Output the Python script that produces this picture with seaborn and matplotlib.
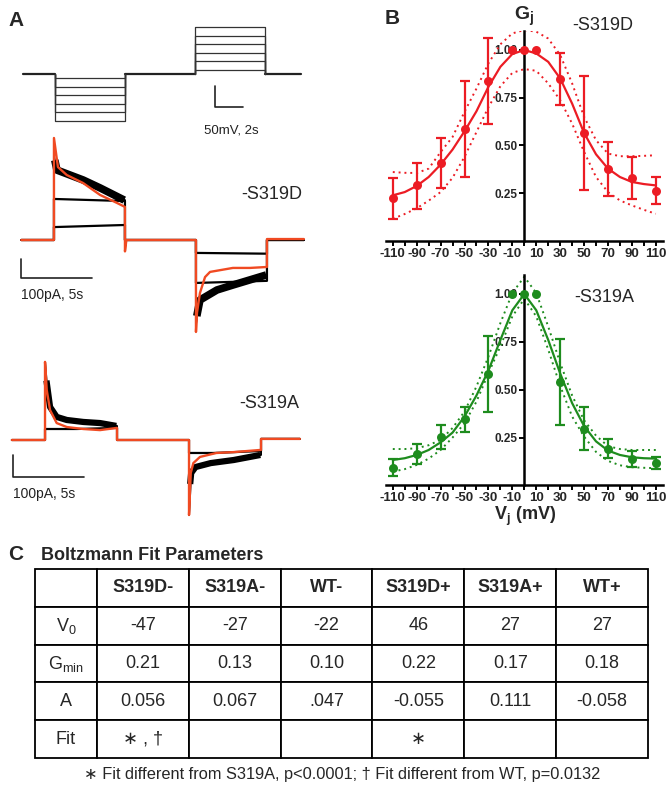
import matplotlib
matplotlib.use('Agg')
import matplotlib.pyplot as plt
import numpy as np
import seaborn as sns

## DATOS

# A: protocolo de voltaje (s, mV)
prot_t = [0, 2.3, 7.3, 12.3, 17.3, 19.9]
prot_neg = [-10, -30, -50, -70, -90, -110]
prot_pos = [10, 30, 50, 70, 90, 110]

# A: corrientes S319D (s, pA)
d_red_t = [0, 2.3, 2.3, 2.58, 3.2, 4.35, 5.55, 6.74, 7.3, 7.3, 7.4, 12.3, 12.3, 12.37, 12.58, 12.94, 13.29, 14.9, 16.1, 17.3, 17.3, 19.9]
d_red_i = [0, 0, 537, 384, 342, 300, 237, 195, 174, -60, 0, 0, -484, -384, -279, -195, -168, -147, -147, -142, 5, 5]
d_blk_t = [0, 2.3, 2.3, 2.51, 4.35, 5.55, 7.3, 7.3, 12.3, 12.3, 12.58, 13.78, 14.9, 17.3, 17.3, 19.9]
d_blk_i = [0, 0, 440, 368, 316, 274, 210, 0, 0, -440, -316, -263, -237, -184, 0, 0]
d_band1_t = [2.36, 2.51, 4.35, 5.55, 7.25]
d_band1_i = [420, 368, 316, 274, 210]
d_band2_t = [12.36, 12.58, 13.78, 14.9, 17.25]
d_band2_i = [-400, -316, -263, -237, -184]
d_flat_t = [0, 2.3, 2.3, 7.3, 7.3, 12.3, 12.3, 17.3, 17.3, 19.9]
d_mid_i = [0, 0, 216, 205, 0, 0, -226, -215, 0, 0]
d_low_i = [0, 0, 68, 79, 0, 0, -68, -72, 0, 0]

# A: corrientes S319A (s, pA)
a_red_t = [0, 2.3, 2.3, 2.42, 2.65, 3.11, 3.81, 4.96, 6.12, 7.3, 7.3, 12.3, 12.3, 12.42, 12.6, 13.06, 14.2, 15.4, 17.3, 17.3, 20.0]
a_red_i = [0, 0, 355, 227, 136, 77, 59, 50, 45, 55, 0, 0, -341, -150, -105, -77, -59, -55, -45, 5, 5]
a_blk_t = [0, 2.3, 2.3, 2.42, 2.65, 3.11, 3.81, 4.96, 6.12, 7.3, 7.3, 12.3, 12.3, 12.45, 12.75, 13.8, 15.4, 17.3, 17.3, 20.0]
a_blk_i = [0, 0, 355, 259, 150, 105, 91, 82, 77, 64, 0, 0, -341, -150, -123, -105, -91, -68, 5, 5]
a_band1_t = [2.4, 2.65, 3.11, 3.81, 4.96, 6.12, 7.25]
a_band1_i = [270, 150, 105, 91, 82, 77, 64]
a_band2_t = [12.38, 12.45, 12.75, 13.8, 15.4, 17.25]
a_band2_i = [-200, -150, -123, -105, -91, -68]
a_flat_t = [0, 2.3, 2.3, 4.5, 7.3, 7.3, 12.3, 12.3, 14.0, 17.3, 17.3, 20.0]
a_flat_i = [0, 0, 50, 50, 55, 0, 0, -59, -59, -50, 5, 5]

# B: Gj vs Vj
vj = [-110, -90, -70, -50, -30, -10, 0, 10, 30, 50, 70, 90, 110]
d_gj = [0.225, 0.29, 0.407, 0.588, 0.839, 1.0, 1.0, 1.0, 0.849, 0.565, 0.374, 0.329, 0.262]
d_hi = [0.33, 0.41, 0.539, 0.84, 1.065, np.nan, np.nan, np.nan, 0.986, 0.864, 0.518, 0.439, 0.336]
d_lo = [0.115, 0.167, 0.278, 0.334, 0.614, np.nan, np.nan, np.nan, 0.709, 0.268, 0.233, 0.217, 0.19]
a_gj = [0.093, 0.164, 0.252, 0.346, 0.58, 1.0, 1.0, 1.0, 0.539, 0.295, 0.19, 0.137, 0.117]
a_hi = [0.138, 0.215, 0.314, 0.41, 0.778, np.nan, np.nan, np.nan, 0.764, 0.408, 0.241, 0.18, 0.147]
a_lo = [0.049, 0.112, 0.189, 0.281, 0.384, np.nan, np.nan, np.nan, 0.316, 0.183, 0.144, 0.095, 0.084]

# B: curvas de ajuste
v_fit = [-110, -100, -90, -80, -70, -60, -50, -40, -30, -20, -10, 0, 10, 20, 30, 40, 50, 60, 70, 80, 90, 100, 110]
d_fit = [0.238, 0.255, 0.287, 0.334, 0.399, 0.478, 0.574, 0.679, 0.807, 0.912, 0.979, 1.0, 0.982, 0.938, 0.851, 0.719, 0.565, 0.453, 0.378, 0.334, 0.308, 0.297, 0.29]
d_fit_hi = [0.36, 0.356, 0.355, 0.378, 0.465, 0.544, 0.676, 0.798, 0.93, 1.03, 1.087, 1.105, 1.096, 1.06, 0.974, 0.825, 0.65, 0.527, 0.457, 0.443, 0.443, 0.445, 0.448]
d_fit_lo = [0.115, 0.14, 0.17, 0.21, 0.255, 0.33, 0.44, 0.57, 0.7, 0.81, 0.88, 0.9, 0.891, 0.825, 0.737, 0.614, 0.466, 0.334, 0.255, 0.211, 0.185, 0.162, 0.141]
a_fit = [0.133, 0.142, 0.159, 0.185, 0.225, 0.276, 0.36, 0.47, 0.6, 0.76, 0.915, 1.0, 0.915, 0.76, 0.585, 0.43, 0.31, 0.23, 0.182, 0.159, 0.147, 0.142, 0.14]
a_fit_hi = [0.19, 0.19, 0.194, 0.21, 0.238, 0.3, 0.386, 0.517, 0.673, 0.848, 1.005, 1.09, 1.005, 0.83, 0.64, 0.47, 0.34, 0.26, 0.205, 0.19, 0.185, 0.185, 0.185]
a_fit_lo = [0.072, 0.085, 0.107, 0.14, 0.185, 0.25, 0.325, 0.438, 0.586, 0.726, 0.883, 0.975, 0.883, 0.71, 0.52, 0.36, 0.255, 0.175, 0.128, 0.105, 0.095, 0.092, 0.09]

x_ticks = [-110, -100, -90, -80, -70, -60, -50, -40, -30, -20, -10, 0, 10, 20, 30, 40, 50, 60, 70, 80, 90, 100, 110]
x_labels = ['-110', '', '-90', '', '-70', '', '-50', '', '-30', '', '-10', '', '10', '', '30', '', '50', '', '70', '', '90', '', '110']
y_ticks = [0.25, 0.5, 0.75, 1.0]
y_labels = ['0.25', '0.50', '0.75', '1.00']

# C: tabla de Boltzmann
col_labels = ['', 'S319D-', 'S319A-', 'WT-', 'S319D+', 'S319A+', 'WT+']
row_labels = ['V$_0$', 'G$_{\\mathrm{min}}$', 'A', 'Fit']
v0_vals = ['-47', '-27', '-22', '46', '27', '27']
gmin_vals = ['0.21', '0.13', '0.10', '0.22', '0.17', '0.18']
a_vals = ['0.056', '0.067', '.047', '-0.055', '0.111', '-0.058']
fit_vals = ['\u2217 , \u2020', '', '', '\u2217', '', '']
nota = '\u2217 Fit different from S319A, p<0.0001; \u2020 Fit different from WT, p=0.0132'

## ESTILO

sns.set_theme(style='white')
plt.rcParams['font.family'] = ['Liberation Sans', 'DejaVu Sans']
plt.rcParams['mathtext.fontset'] = 'custom'
plt.rcParams['mathtext.rm'] = 'Liberation Sans'
plt.rcParams['mathtext.bf'] = 'Liberation Sans:bold'
plt.rcParams['mathtext.it'] = 'Liberation Sans:italic'
plt.rcParams['axes.unicode_minus'] = False

ROJO = '#ec1c24'
VERDE = '#1e8c1e'
NARANJA = '#f04a22'
W, H = 668, 785

fig = plt.figure(figsize=(W / 100, H / 100), dpi=100)


def ejes_px(x0, y0, sx, sy, xlim, ylim):
    '''Crea unos ejes cuyo origen de datos cae en el pixel (x0, y0) con sx, sy px por unidad.'''
    left = x0 + xlim[0] * sx
    right = x0 + xlim[1] * sx
    top = y0 - ylim[1] * sy
    bottom = y0 - ylim[0] * sy
    ax = fig.add_axes([left / W, 1 - bottom / H, (right - left) / W, (bottom - top) / H])
    ax.set_xlim(xlim)
    ax.set_ylim(ylim)
    ax.set_facecolor('none')
    return ax


def texto_px(x, y, s, **kw):
    fig.text(x / W, 1 - y / H, s, **kw)


def linea(ax, x, y, **kw):
    sns.lineplot(x=x, y=y, ax=ax, estimator=None, sort=False, **kw)


## PANEL A

ax_p = ejes_px(22.8, 74, 14, 0.425, (-1.5, 24), (-155, 135))
ax_p.axis('off')
for a, b in [(0, 1), (2, 3), (4, 5)]:
    linea(ax_p, [prot_t[a], prot_t[b]], [0, 0], color='#222222', lw=1.6)
for (t_on, t_off), niveles in [((prot_t[1], prot_t[2]), prot_neg), ((prot_t[3], prot_t[4]), prot_pos)]:
    for v in niveles:
        linea(ax_p, [t_on, t_on, t_off, t_off], [0, v, v, 0], color='#333333', lw=0.9)
linea(ax_p, [13.73, 13.73, 15.73], [-28, -78, -78], color='#222222', lw=1.2)
ax_p.text(12.94, -134, '50mV, 2s', fontsize=9.5, ha='left', va='center', color='#222222')

ax_d = ejes_px(21.3, 240, 14.2, 0.19, (-1.5, 24), (-530, 580))
ax_d.axis('off')
linea(ax_d, d_blk_t, d_blk_i, color='black', lw=1.4)
linea(ax_d, d_band1_t, d_band1_i, color='black', lw=5.5, solid_capstyle='butt')
linea(ax_d, d_band2_t, d_band2_i, color='black', lw=5.5, solid_capstyle='butt')
linea(ax_d, d_flat_t, d_mid_i, color='black', lw=1.6)
linea(ax_d, d_flat_t, d_low_i, color='black', lw=1.6)
linea(ax_d, d_red_t, d_red_i, color=NARANJA, lw=1.7)
linea(ax_d, [0, 0, 5], [-100, -200, -200], color='#222222', lw=1.2)
ax_d.text(0, -290, '100pA, 5s', fontsize=10, ha='left', va='center', color='#222222')
ax_d.text(17.65, 237, '-S319D', fontsize=13, ha='center', va='center')

ax_a = ejes_px(11.9, 440, 14.4, 0.22, (-0.8, 24), (-430, 430))
ax_a.axis('off')
linea(ax_a, a_blk_t, a_blk_i, color='black', lw=1.4)
linea(ax_a, a_band1_t, a_band1_i, color='black', lw=4.5, solid_capstyle='butt')
linea(ax_a, a_band2_t, a_band2_i, color='black', lw=4.5, solid_capstyle='butt')
linea(ax_a, a_flat_t, a_flat_i, color='black', lw=1.6)
linea(ax_a, a_red_t, a_red_i, color=NARANJA, lw=1.7)
linea(ax_a, [0.05, 0.05, 5], [-68, -168, -168], color='#222222', lw=1.2)
ax_a.text(0.05, -245, '100pA, 5s', fontsize=10, ha='left', va='center', color='#222222')
ax_a.text(17.85, 168, '-S319A', fontsize=13, ha='center', va='center')

## PANEL B


def panel_gj(ax, gj, lo, hi, fit, fit_lo, fit_hi, color):
    linea(ax, v_fit, fit, color=color, lw=1.6)
    for banda in (fit_lo, fit_hi):
        linea(ax, v_fit, banda, color=color, lw=1.4, linestyle=(0, (1, 2)))
    g = np.array(gj)
    l = np.array(lo)
    h = np.array(hi)
    m = ~np.isnan(l)
    ax.errorbar(np.array(vj)[m], g[m], yerr=[g[m] - l[m], h[m] - g[m]], fmt='none',
                ecolor=color, elinewidth=1.6, capsize=3.5, capthick=1.6, zorder=3)
    sns.scatterplot(x=vj, y=gj, ax=ax, color=color, s=42, edgecolor=color, linewidth=0, zorder=4)

    for s in ['top', 'right']:
        ax.spines[s].set_visible(False)
    ax.spines['left'].set_position(('data', 0))
    for s in ['left', 'bottom']:
        ax.spines[s].set_linewidth(1.8)
        ax.spines[s].set_color('black')
    ax.set_xticks(x_ticks)
    ax.set_xticklabels(x_labels, fontsize=9.5, fontweight='bold')
    ax.set_yticks(y_ticks)
    ax.set_yticklabels(y_labels, fontsize=8.5, fontweight='bold')
    ax.tick_params(axis='both', direction='out', length=3.5, width=1.4, color='black',
                   bottom=True, left=True, pad=1.5)
    ax.grid(False)


ax_b1 = ejes_px(524.3, 240.7, 1.1955, 190.7, (-116, 116), (0, 1.1))
panel_gj(ax_b1, d_gj, d_lo, d_hi, d_fit, d_fit_lo, d_fit_hi, ROJO)
ax_b2 = ejes_px(524.3, 485.4, 1.1955, 191.4, (-116, 116), (0, 1.1))
panel_gj(ax_b2, a_gj, a_lo, a_hi, a_fit, a_fit_lo, a_fit_hi, VERDE)

texto_px(524, 16, r'$\mathbf{G_j}$', fontsize=14, ha='center', va='center')
texto_px(603, 25, '-S319D', fontsize=13, ha='center', va='center')
texto_px(604, 297, '-S319A', fontsize=13, ha='center', va='center')
texto_px(525, 516, r'$\mathbf{V_j}$ (mV)', fontsize=13, fontweight='bold', ha='center', va='center')

## PANEL C

ax_t = fig.add_axes([35 / W, 1 - 758 / H, (648 - 35) / W, (758 - 569) / H])
ax_t.axis('off')
cuerpo = [[row_labels[0]] + v0_vals, [row_labels[1]] + gmin_vals,
          [row_labels[2]] + a_vals, [row_labels[3]] + fit_vals]
anchos = [62] + [92] * 6
tabla = ax_t.table(cellText=cuerpo, colLabels=col_labels, colWidths=[a / sum(anchos) for a in anchos],
                   cellLoc='center', bbox=[0, 0, 1, 1])
tabla.auto_set_font_size(False)
for (r, c), celda in tabla.get_celld().items():
    celda.set_linewidth(1.3)
    celda.set_edgecolor('black')
    celda.get_text().set_fontsize(13)
    if r == 0:
        celda.get_text().set_fontweight('bold')

texto_px(8, 21, 'A', fontsize=15, fontweight='bold', ha='left', va='center')
texto_px(385, 18, 'B', fontsize=15, fontweight='bold', ha='left', va='center')
texto_px(8, 555, 'C', fontsize=15, fontweight='bold', ha='left', va='center')
texto_px(41, 555, 'Boltzmann Fit Parameters', fontsize=13, fontweight='bold', ha='left', va='center')
texto_px(342, 775, nota, fontsize=11.8, ha='center', va='center')

fig.savefig('out.png', dpi=100)
